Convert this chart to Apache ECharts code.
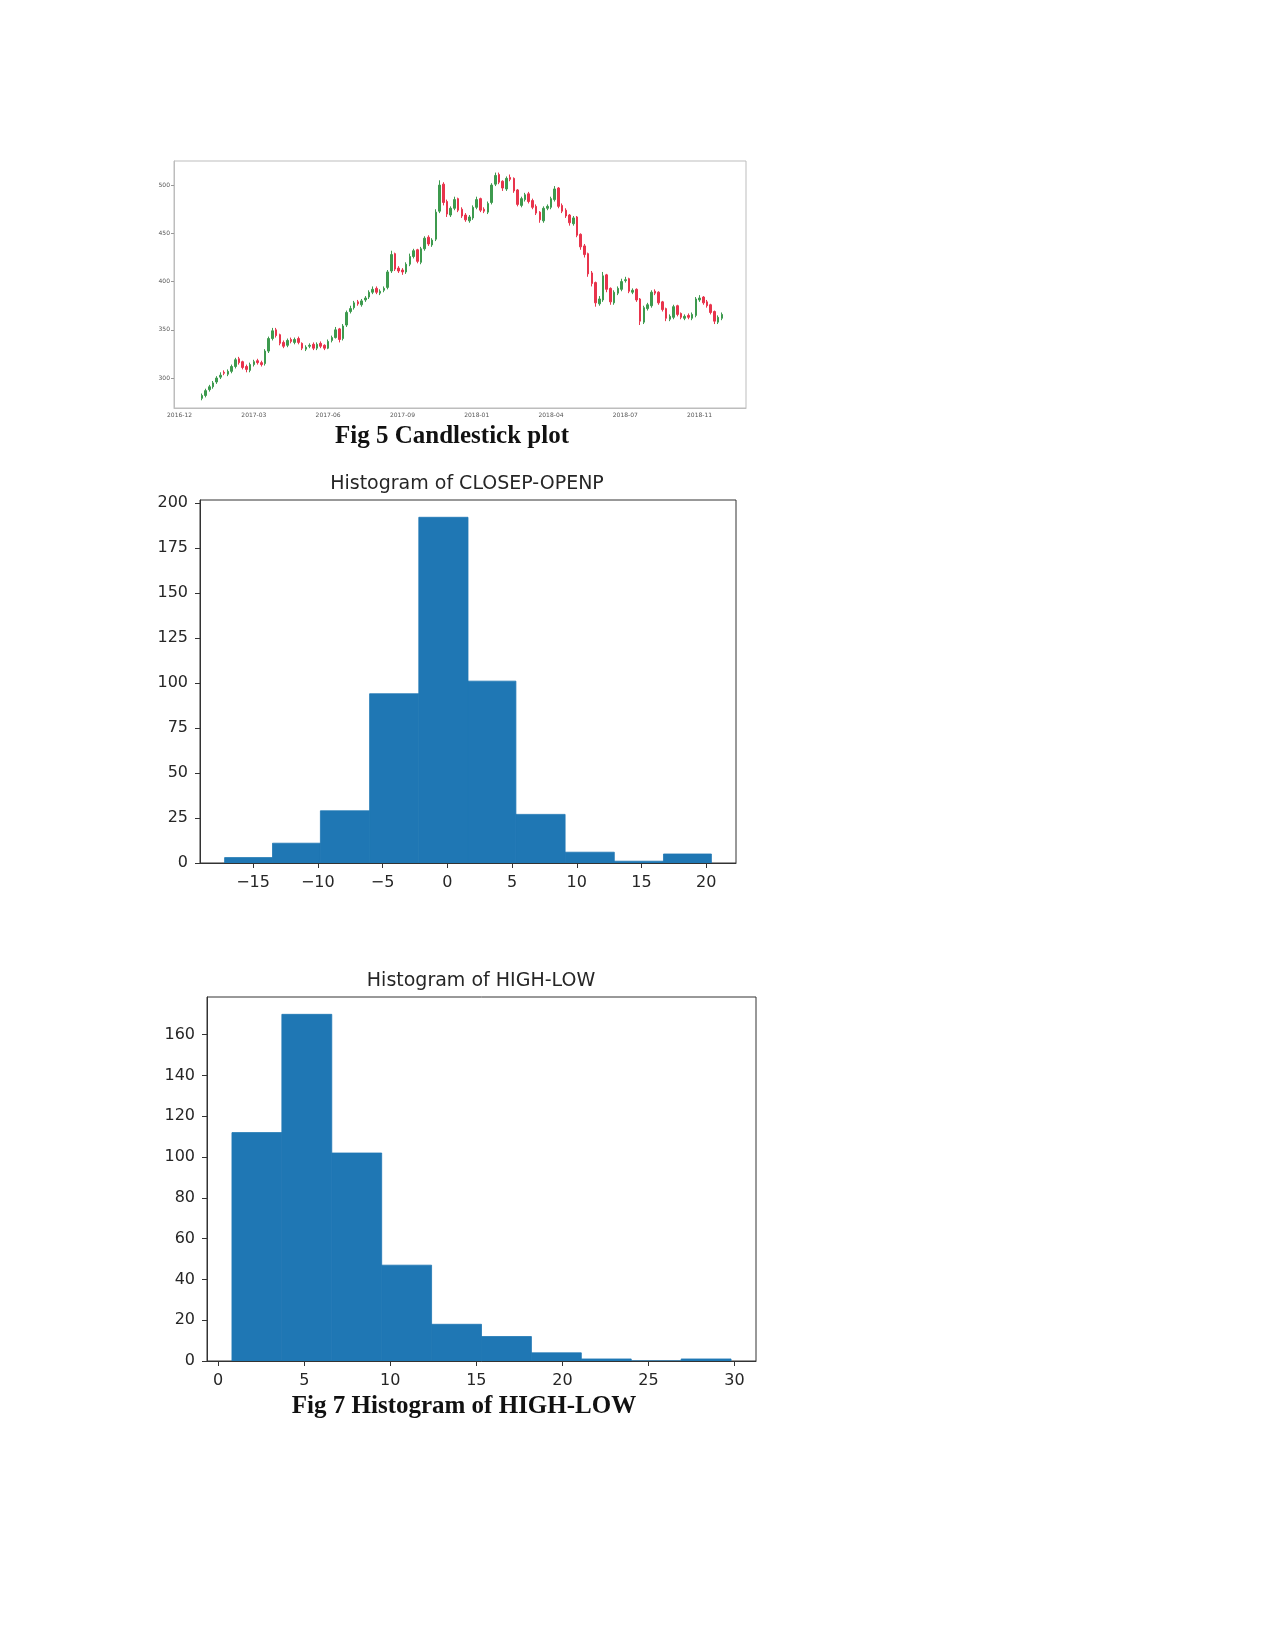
<!DOCTYPE html>
<html><head><meta charset="utf-8">
<script src="https://cdn.jsdelivr.net/npm/echarts@6/dist/echarts.min.js"></script>
<style>html,body{margin:0;padding:0;background:#fff}#c{width:1275px;height:1650px}</style>
</head><body><div id="c"></div>
<script>
// ---------- Fig 5: candlestick ----------
const candleTickLabels = ['2016-12','2017-03','2017-06','2017-09','2018-01','2018-04','2018-07','2018-11'];
const candleTickStep = 20;          // candle slots between date labels
const candleFirstSlot = 6;          // slot of first candle
const candleSlotRange = [-1, 152];  // slots spanned by the axis
const candleYTicks = [300, 350, 400, 450, 500];
const candleOpen = [279,282,288,291,296,301,306,304,307,312,320,317,312,308,314,318,316,315,328,341,
350,345,337,334,340,337,341,336,330,333,335,331,336,334,331,339,342,351,341,355,
369,373,379,376,381,384,389,393,388,391,394,411,429,414,412,410,418,426,433,420,
434,446,438,444,473,501,483,469,476,486,475,469,463,466,477,486,475,472,482,501,
511,504,496,508,507,495,479,485,491,484,478,472,463,476,477,485,497,479,474,469,
460,467,449,437,429,409,399,377,381,407,393,378,388,392,401,403,389,392,382,358,
372,375,390,389,379,372,361,363,375,367,362,365,362,365,381,384,379,376,369,358,362];
const candleClose = [282,287,291,295,300,303,305,307,312,319,316,311,309,314,317,316,314,328,341,349,
344,336,333,339,338,340,337,331,332,334,331,335,333,331,338,342,350,340,354,368,
372,378,377,380,383,389,392,389,390,393,410,428,413,411,410,418,426,432,421,434,
445,439,443,472,500,482,470,476,485,474,468,464,467,477,485,474,473,481,500,510,
503,497,507,506,494,480,486,490,483,477,471,464,476,478,486,496,478,473,468,461,
466,448,436,428,408,398,378,382,406,392,379,389,393,400,402,390,391,381,359,373,
376,389,388,378,371,362,364,374,366,363,364,363,366,382,383,378,375,368,359,363,366];
const candleLow = [277,280,286,289,294,299,303,302,305,310,314,309,306,306,312,314,312,313,326,339,
342,334,331,332,336,335,335,329,328,331,329,329,331,329,330,337,341,337,339,353,
367,371,375,374,379,382,387,387,386,389,392,409,411,409,407,408,416,424,419,418,
432,437,436,442,471,479,467,467,474,472,466,462,461,464,475,472,471,470,480,499,
501,494,494,504,492,478,477,483,481,475,469,461,461,474,475,483,476,471,466,458,
458,446,433,425,405,395,374,375,379,389,376,376,386,390,399,388,387,379,355,356,
370,373,386,376,369,359,359,361,364,361,360,361,360,363,379,376,373,366,356,356,360];
const candleHigh = [284,289,293,297,302,306,308,309,314,321,322,318,314,316,319,320,318,330,343,352,
352,346,339,341,342,342,343,337,334,336,337,337,338,335,340,344,353,352,356,370,
375,380,381,382,385,391,395,395,392,395,412,432,430,416,414,420,429,434,434,436,
447,448,445,475,505,503,485,478,488,487,477,471,469,479,488,487,477,483,502,513,
513,505,509,511,508,496,488,492,493,486,480,473,478,480,488,499,498,481,476,470,
468,468,450,439,430,411,400,385,410,408,394,391,395,403,405,404,393,393,383,375,
378,391,392,390,380,373,366,376,376,368,366,367,368,384,386,385,381,377,370,365,368];

// ---------- Histogram of CLOSEP-OPENP ----------
const hist1Edges = [-17.2,-13.5,-9.8,-6.0,-2.2,1.6,5.3,9.1,12.9,16.7,20.4];
const hist1Counts = [3,11,29,94,192,101,27,6,1,5];
const hist1XTicks = [-15,-10,-5,0,5,10,15,20];
const hist1YTicks = [0,25,50,75,100,125,150,175,200];

// ---------- Histogram of HIGH-LOW ----------
const hist2Edges = [0.8,3.7,6.6,9.5,12.4,15.3,18.2,21.1,24.0,26.9,29.8];
const hist2Counts = [112,170,102,47,18,12,4,1,0,1];
const hist2XTicks = [0,5,10,15,20,25,30];
const hist2YTicks = [0,20,40,60,80,100,120,140,160];

// ---------- build ----------
const cats = [];
const candleData = [];
for (let p = candleSlotRange[0]; p <= candleSlotRange[1]; p++) {
  const k = p / candleTickStep;
  cats.push(p >= 0 && Number.isInteger(k) && k < candleTickLabels.length ? candleTickLabels[k] : '');
  const i = p - candleFirstSlot;
  candleData.push(i >= 0 && i < candleOpen.length ? [candleOpen[i], candleClose[i], candleLow[i], candleHigh[i]] : '-');
}
function binsOf(edges, counts) { return counts.map((c, i) => [edges[i], edges[i + 1], c]); }
function histRender(params, api) {
  const a = api.coord([api.value(0), api.value(2)]);
  const b = api.coord([api.value(1), 0]);
  return { type: 'rect', shape: { x: a[0], y: a[1], width: b[0] - a[0], height: b[1] - a[1] },
           style: { fill: '#1f77b4', stroke: '#1f77b4', lineWidth: 0.8 } };
}
const minus = v => (v < 0 ? '\u2212' + Math.abs(v) : String(v));
const F = 'DejaVu Sans';
const TC = '#262626';
function histX(grid, min, max, ticks) {
  return { type: 'value', gridIndex: grid, min, max, z: 10,
    axisLine: { show: true, onZero: false, lineStyle: { color: '#333', width: 1 } },
    axisTick: { show: true, inside: false, length: 5, lineStyle: { color: '#333' }, customValues: ticks },
    axisLabel: { fontFamily: F, fontSize: 16, color: TC, margin: 12, formatter: minus, customValues: ticks },
    splitLine: { show: false } };
}
function histY(grid, max, ticks) {
  return { type: 'value', gridIndex: grid, min: 0, max, z: 10,
    axisLine: { show: true, onZero: false, lineStyle: { color: '#333', width: 1 } },
    axisTick: { show: true, inside: false, length: 5, lineStyle: { color: '#333' }, customValues: ticks },
    axisLabel: { fontFamily: F, fontSize: 16, color: TC, margin: 12, customValues: ticks },
    splitLine: { show: false } };
}

const chart = echarts.init(document.getElementById('c'), null, { renderer: 'canvas' });
chart.setOption({
  animation: false,
  backgroundColor: '#fff',
  grid: [
    { left: 174, top: 161, width: 572, height: 247, show: true, borderColor: '#bdbdbd', borderWidth: 1 },
    { left: 200, top: 500, width: 536, height: 363, show: true, borderColor: '#333', borderWidth: 1 },
    { left: 207, top: 997, width: 549, height: 364, show: true, borderColor: '#333', borderWidth: 1 }
  ],
  xAxis: [
    { type: 'category', gridIndex: 0, data: cats, boundaryGap: true,
      axisLine: { onZero: false, lineStyle: { color: '#bdbdbd' } },
      axisTick: { alignWithLabel: true, length: 3, interval: (i, v) => v !== '', lineStyle: { color: '#999' } },
      axisLabel: { interval: (i, v) => v !== '', fontFamily: F, fontSize: 6, color: '#555', margin: 4 },
      splitLine: { show: false } },
    histX(1, -19.1, 22.3, hist1XTicks),
    histX(2, -0.65, 31.25, hist2XTicks)
  ],
  yAxis: [
    { type: 'value', gridIndex: 0, min: 269, max: 525,
      axisLine: { show: true, onZero: false, lineStyle: { color: '#bdbdbd' } },
      axisTick: { show: true, length: 3, lineStyle: { color: '#999' }, customValues: candleYTicks },
      axisLabel: { fontFamily: F, fontSize: 6, color: '#555', margin: 4, customValues: candleYTicks },
      splitLine: { show: false } },
    histY(1, 201.6, hist1YTicks),
    histY(2, 178.5, hist2YTicks)
  ],
  series: [
    { type: 'candlestick', xAxisIndex: 0, yAxisIndex: 0, data: candleData, barWidth: 2,
      itemStyle: { color: '#3d9a4e', color0: '#e8344c', borderColor: '#3d9a4e', borderColor0: '#e8344c', borderWidth: 1 } },
    { type: 'custom', xAxisIndex: 1, yAxisIndex: 1, renderItem: histRender,
      encode: { x: [0, 1], y: 2 }, data: binsOf(hist1Edges, hist1Counts) },
    { type: 'custom', xAxisIndex: 2, yAxisIndex: 2, renderItem: histRender,
      encode: { x: [0, 1], y: 2 }, data: binsOf(hist2Edges, hist2Counts) }
  ],
  graphic: [
    { type: 'text', x: 452, y: 437, style: { text: 'Fig 5 Candlestick plot', font: 'bold 25px "Liberation Serif"', fill: '#111', textAlign: 'center', textVerticalAlign: 'middle' } },
    { type: 'text', x: 467, y: 484, style: { text: 'Histogram of CLOSEP-OPENP', font: '19px "DejaVu Sans"', fill: TC, textAlign: 'center', textVerticalAlign: 'middle' } },
    { type: 'text', x: 481, y: 981, style: { text: 'Histogram of HIGH-LOW', font: '19px "DejaVu Sans"', fill: TC, textAlign: 'center', textVerticalAlign: 'middle' } },
    { type: 'text', x: 464, y: 1407, style: { text: 'Fig 7 Histogram of HIGH-LOW', font: 'bold 25px "Liberation Serif"', fill: '#111', textAlign: 'center', textVerticalAlign: 'middle' } }
  ]
});
</script></body></html>
